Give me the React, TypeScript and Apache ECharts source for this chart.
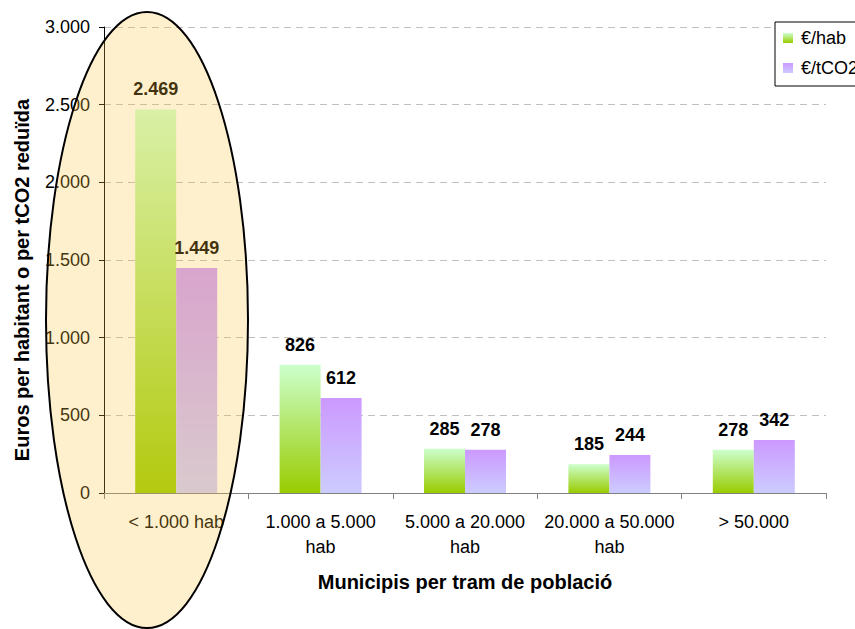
import React, { useEffect, useRef } from "react";
import * as echarts from "echarts";

const categories = [
  "< 1.000 hab",
  "1.000 a 5.000\nhab",
  "5.000 a 20.000\nhab",
  "20.000 a 50.000\nhab",
  "> 50.000",
];
const perHab = [2469, 826, 285, 185, 278];
const perTCO2 = [1449, 612, 278, 244, 342];
const seriesNames = ["€/hab", "€/tCO2"];
const yMin = 0;
const yMax = 3000;
const yInterval = 500;
const xTitle = "Municipis per tram de població";
const yTitle = "Euros per habitant o per tCO2 reduïda";

const FONT = "'Liberation Sans', Arial, sans-serif";

const fmt = (n: number) =>
  String(n).replace(/\B(?=(\d{3})+(?!\d))/g, ".");

export default function App() {
  const ref = useRef<HTMLDivElement>(null);

  useEffect(() => {
    if (!ref.current) return;
    const chart = echarts.init(ref.current, undefined, { renderer: "svg" });

    const greenGrad = new echarts.graphic.LinearGradient(0, 0, 0, 1, [
      { offset: 0, color: "#CCFFCC" },
      { offset: 1, color: "#99CC00" },
    ]);
    const purpleGrad = new echarts.graphic.LinearGradient(0, 0, 0, 1, [
      { offset: 0, color: "#CC99FF" },
      { offset: 1, color: "#CCCCFF" },
    ]);

    const label = {
      show: true,
      position: "top" as const,
      distance: 11,
      fontFamily: FONT,
      fontSize: 18,
      fontWeight: "bold" as const,
      color: "#000",
      formatter: (p: any) => fmt(p.value),
    };

    chart.setOption({
      animation: false,
      backgroundColor: "#fff",
      textStyle: { fontFamily: FONT },
      grid: { left: 104, right: 29, top: 27, bottom: 136 },
      legend: {
        orient: "vertical",
        left: 775,
        top: 22,
        icon: "rect",
        itemWidth: 10,
        itemHeight: 10,
        itemGap: 12,
        padding: [7, 12, 9, 8],
        borderColor: "#000",
        borderWidth: 1,
        backgroundColor: "#fff",
        textStyle: { fontFamily: FONT, fontSize: 18, color: "#000", padding: [0, 0, 0, 3] },
        data: seriesNames,
      },
      xAxis: {
        type: "category",
        data: categories,
        name: xTitle,
        nameLocation: "middle",
        nameGap: 79,
        nameTextStyle: { fontFamily: FONT, fontSize: 20, fontWeight: "bold", color: "#000" },
        axisLine: { lineStyle: { color: "#808080", width: 1 } },
        axisTick: { show: true, length: 6, lineStyle: { color: "#808080" } },
        axisLabel: {
          interval: 0,
          margin: 16,
          fontFamily: FONT,
          fontSize: 18,
          lineHeight: 25,
          color: "#000",
        },
      },
      yAxis: {
        type: "value",
        min: yMin,
        max: yMax,
        interval: yInterval,
        name: yTitle,
        nameLocation: "middle",
        nameGap: 72,
        nameRotate: 90,
        nameTextStyle: {
          fontFamily: FONT,
          fontSize: 20,
          fontWeight: "bold",
          color: "#000",
          padding: [0, 40, 0, 0],
        },
        axisLine: { show: true, lineStyle: { color: "#000", width: 1 } },
        axisTick: { show: true, length: 5, lineStyle: { color: "#000" } },
        axisLabel: {
          margin: 14,
          fontFamily: FONT,
          fontSize: 18,
          color: "#000",
          formatter: (v: number) => fmt(v),
        },
        splitLine: {
          show: true,
          lineStyle: { color: "#BFBFBF", type: [7, 5], width: 1 },
        },
      },
      series: [
        {
          name: seriesNames[0],
          type: "bar",
          data: perHab,
          barWidth: 41,
          barGap: "0%",
          itemStyle: { color: greenGrad },
          label,
        },
        {
          name: seriesNames[1],
          type: "bar",
          data: perTCO2,
          barWidth: 41,
          barGap: "0%",
          itemStyle: { color: purpleGrad },
          label,
        },
      ],
      graphic: [
        {
          type: "ellipse",
          silent: true,
          z: 100,
          shape: { cx: 147, cy: 320, rx: 101, ry: 308 },
          style: { fill: "rgba(255,198,61,0.26)", stroke: "#000", lineWidth: 2 },
        },
      ],
    });

    return () => chart.dispose();
  }, []);

  return (
    <div
      ref={ref}
      style={{ position: "fixed", left: 0, top: 0, width: 855, height: 629 }}
    />
  );
}
